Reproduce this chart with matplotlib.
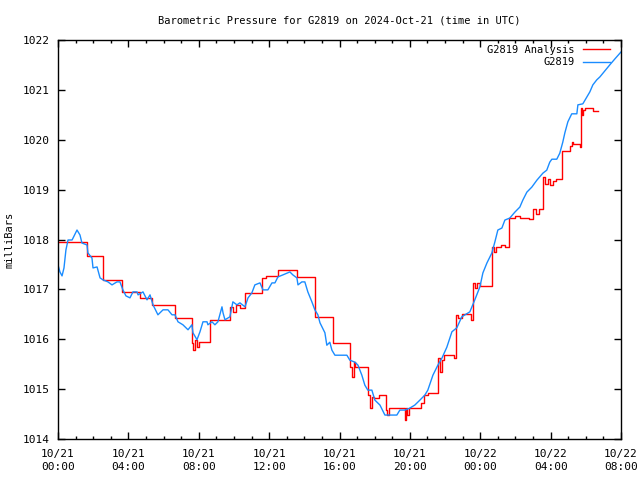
import numpy as np
import matplotlib
matplotlib.use("Agg")
import matplotlib.pyplot as plt
import matplotlib.dates as mdates

# ---- data (hours after 2024-10-21 00:00 UTC, pressure in mb) ----
obs_hours = [0.00, 0.11, 0.23, 0.34, 0.45, 0.57, 0.80, 0.97, 1.08, 1.25, 1.36, 1.65, 1.70, 1.93, 1.99,
             2.22, 2.39, 2.56, 2.84, 3.07, 3.35, 3.52, 3.69, 3.86, 4.09, 4.26, 4.49, 4.55, 4.83, 5.06,
             5.23, 5.40, 5.68, 5.97, 6.25, 6.48, 6.65, 6.82, 7.10, 7.39, 7.61, 7.67, 7.90, 8.07, 8.24,
             8.47, 8.52, 8.75, 8.92, 9.09, 9.32, 9.38, 9.49, 9.77, 9.94, 10.17, 10.34, 10.63, 10.80, 11.02,
             11.19, 11.48, 11.65, 11.93, 12.16, 12.33, 12.50, 12.78, 13.18, 13.35, 13.58, 13.64, 13.86, 14.03,
             14.20, 14.43, 14.60, 14.77, 14.89, 15.17, 15.28, 15.45, 15.57, 15.74, 16.42, 16.59, 16.88, 17.05,
             17.27, 17.44, 17.61, 17.84, 18.01, 18.30, 18.58, 19.26, 19.43, 19.72, 20.00, 20.28, 20.57, 20.85,
             21.02, 21.31, 21.59, 21.82, 22.10, 22.39, 22.67, 22.95, 23.41, 23.69, 23.98, 24.15, 24.38, 24.66,
             24.83, 25.00, 25.23, 25.40, 25.68, 25.97, 26.25, 26.42, 26.65, 26.93, 27.22, 27.56, 27.78, 27.95,
             28.07, 28.35, 28.52, 28.69, 28.81, 28.98, 29.20, 29.49, 29.55, 29.83, 30.06, 30.23, 30.40, 30.62,
             30.80, 31.08, 31.36, 31.65, 32.00]
obs_mb = [1017.49, 1017.35, 1017.27, 1017.43, 1017.79, 1017.99, 1017.99, 1018.11, 1018.19, 1018.09, 1017.93,
          1017.89, 1017.73, 1017.63, 1017.43, 1017.45, 1017.23, 1017.19, 1017.15, 1017.09, 1017.15, 1017.15,
          1016.99, 1016.87, 1016.83, 1016.95, 1016.95, 1016.89, 1016.95, 1016.79, 1016.89, 1016.69, 1016.49,
          1016.59, 1016.59, 1016.49, 1016.49, 1016.35, 1016.29, 1016.19, 1016.29, 1016.13, 1015.99, 1016.15,
          1016.35, 1016.35, 1016.29, 1016.35, 1016.29, 1016.35, 1016.65, 1016.53, 1016.39, 1016.45, 1016.75,
          1016.69, 1016.73, 1016.65, 1016.83, 1016.93, 1017.09, 1017.13, 1016.99, 1016.99, 1017.13, 1017.13,
          1017.25, 1017.29, 1017.35, 1017.29, 1017.23, 1017.09, 1017.15, 1017.15, 1016.95, 1016.75, 1016.59,
          1016.49, 1016.33, 1016.13, 1015.88, 1015.94, 1015.78, 1015.68, 1015.68, 1015.58, 1015.54, 1015.48,
          1015.28, 1015.08, 1014.98, 1014.98, 1014.78, 1014.68, 1014.48, 1014.48, 1014.58, 1014.58, 1014.62,
          1014.68, 1014.78, 1014.88, 1014.98, 1015.28, 1015.48, 1015.62, 1015.84, 1016.15, 1016.23, 1016.45,
          1016.55, 1016.79, 1017.05, 1017.33, 1017.53, 1017.73, 1017.95, 1018.19, 1018.23, 1018.39, 1018.43,
          1018.55, 1018.65, 1018.79, 1018.95, 1019.05, 1019.19, 1019.33, 1019.39, 1019.55, 1019.61, 1019.61,
          1019.73, 1019.95, 1020.14, 1020.36, 1020.52, 1020.52, 1020.70, 1020.72, 1020.86, 1020.96, 1021.10,
          1021.20, 1021.26, 1021.38, 1021.50, 1021.62, 1021.76]

ana_hours = [0.00, 1.65, 2.56, 3.64, 4.66, 5.34, 6.65, 7.61, 7.67, 7.78, 7.90, 8.01, 8.64, 9.77, 9.94,
             10.11, 10.34, 10.63, 11.59, 11.82, 12.50, 13.58, 14.60, 15.63, 16.59, 16.70, 16.82, 16.88,
             17.61, 17.73, 17.84, 17.95, 18.24, 18.64, 18.70, 18.80, 19.72, 19.78, 19.84, 19.95, 20.63,
             20.80, 21.02, 21.59, 21.70, 21.82, 21.93, 22.50, 22.61, 22.73, 22.95, 23.47, 23.58, 23.69,
             23.80, 23.98, 24.66, 24.77, 24.89, 25.17, 25.40, 25.63, 25.97, 26.25, 26.76, 26.99, 27.16,
             27.33, 27.56, 27.67, 27.84, 27.95, 28.13, 28.30, 28.64, 29.09, 29.20, 29.26, 29.66, 29.72,
             29.77, 29.83, 29.94, 30.40, 30.68]
ana_mb = [1017.95, 1017.67, 1017.19, 1016.95, 1016.83, 1016.69, 1016.43, 1015.93, 1015.78, 1015.99, 1015.84,
          1015.94, 1016.39, 1016.65, 1016.55, 1016.69, 1016.63, 1016.93, 1017.23, 1017.27, 1017.39, 1017.25,
          1016.45, 1015.93, 1015.44, 1015.24, 1015.54, 1015.44, 1014.88, 1014.62, 1014.84, 1014.82, 1014.88,
          1014.58, 1014.48, 1014.62, 1014.38, 1014.62, 1014.48, 1014.62, 1014.72, 1014.88, 1014.92, 1015.62,
          1015.34, 1015.58, 1015.68, 1015.62, 1016.49, 1016.43, 1016.51, 1016.39, 1017.13, 1017.03, 1017.13,
          1017.07, 1017.85, 1017.75, 1017.85, 1017.89, 1017.85, 1018.43, 1018.47, 1018.43, 1018.41, 1018.61,
          1018.51, 1018.61, 1019.25, 1019.11, 1019.21, 1019.09, 1019.17, 1019.21, 1019.77, 1019.87, 1019.95,
          1019.91, 1019.85, 1020.64, 1020.50, 1020.60, 1020.64, 1020.58, 1020.58]

series_labels = ["G2819 Analysis", "G2819"]
title_text = "Barometric Pressure for G2819 on 2024-Oct-21 (time in UTC)"
y_label = "milliBars"
y_ticks = [1014, 1015, 1016, 1017, 1018, 1019, 1020, 1021, 1022]

base = np.datetime64("2024-10-21T00:00")
def to_time(h):
    return base + (np.array(h) * 3600).astype("timedelta64[s]")

plt.rcParams["font.family"] = ["DejaVu Sans Mono"]
fig = plt.figure(figsize=(6.4, 4.8), dpi=100)
ax = fig.add_axes([58 / 640, 1 - 439 / 480, 563 / 640, 399 / 480])

ax.plot(to_time(ana_hours), ana_mb, color="#ff0000", lw=1.0, drawstyle="steps-post", label=series_labels[0])
ax.plot(to_time(obs_hours), obs_mb, color="#1a8cff", lw=1.0, label=series_labels[1])

ax.set_xlim(base, base + np.timedelta64(32, "h"))
ax.set_ylim(1014, 1022)
ax.set_yticks(y_ticks)
ax.xaxis.set_major_locator(mdates.HourLocator(byhour=[0, 4, 8, 12, 16, 20]))
ax.xaxis.set_minor_locator(mdates.HourLocator())
ax.xaxis.set_major_formatter(mdates.DateFormatter("%m/%d\n%H:%M"))

ax.tick_params(which="both", direction="in", top=True, right=True, labelsize=8, width=1)
ax.tick_params(which="major", length=5)
ax.tick_params(axis="x", which="major", pad=7)
ax.tick_params(axis="y", which="major", pad=6)
ax.tick_params(which="minor", length=2.5)
for lab in ax.get_xticklabels():
    lab.set_linespacing(1.35)
for s in ax.spines.values():
    s.set_linewidth(1.0)

ax.set_title(title_text, fontsize=7.5, pad=12)
ax.set_ylabel(y_label, fontsize=7.5, labelpad=6)

ax.legend(loc="upper right", bbox_to_anchor=(0.981, 0.988), frameon=False, markerfirst=False,
          fontsize=7.5, handlelength=2.6, handletextpad=0.8, labelspacing=0.25,
          borderpad=0, borderaxespad=0)

fig.savefig("out.png", dpi=100)
